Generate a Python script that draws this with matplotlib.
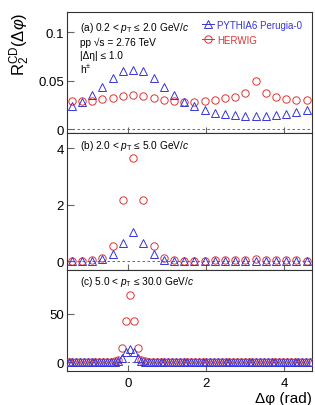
import numpy as np
import matplotlib
matplotlib.use("Agg")
import matplotlib.pyplot as plt
from matplotlib.lines import Line2D

plt.rcParams['font.family'] = ['Liberation Sans', 'DejaVu Sans']
plt.rcParams['mathtext.fontset'] = 'custom'
plt.rcParams['mathtext.rm'] = 'Liberation Sans'
plt.rcParams['mathtext.it'] = 'Liberation Sans:italic'
plt.rcParams['mathtext.bf'] = 'Liberation Sans:bold'

# --- donnees ---
n_bins_ab = 24
n_bins_c = 64

pythia_a = [0.0234, 0.0283, 0.0352, 0.0431, 0.0528, 0.0597, 0.0610, 0.0597,
            0.0531, 0.0438, 0.0352, 0.0283, 0.0234, 0.0197, 0.0166, 0.0152,
            0.0145, 0.0138, 0.0138, 0.0138, 0.0145, 0.0155, 0.0172, 0.0197]
herwig_a = [0.0286, 0.0286, 0.0290, 0.0307, 0.0321, 0.0338, 0.0355, 0.0345,
            0.0321, 0.0300, 0.0286, 0.0279, 0.0283, 0.0293, 0.0303, 0.0317,
            0.0331, 0.0369, 0.0500, 0.0369, 0.0334, 0.0314, 0.0303, 0.0297]

pythia_b = [0.00, 0.00, 0.01, 0.09, 0.25, 0.65, 1.05, 0.65, 0.25, 0.06, 0.01, 0.00,
            0.00, 0.00, 0.00, 0.00, 0.00, 0.00, 0.00, 0.00, 0.00, 0.00, 0.00, 0.00]
herwig_b = [0.02, 0.02, 0.03, 0.13, 0.53, 2.16, 3.65, 2.16, 0.53, 0.13, 0.03, 0.02,
            0.02, 0.02, 0.03, 0.04, 0.05, 0.06, 0.07, 0.06, 0.05, 0.04, 0.03, 0.02]

pythia_c = ([0.2] * 12 + [0.4, 1.5, 4.5, 10.5, 14.0, 10.5, 4.5, 1.5, 0.4]
            + [0.2] * 43)
herwig_c = ([0.3] * 11 + [0.5, 0.9, 2.8, 15.2, 43.2, 70.0, 43.2, 15.2, 2.8, 0.9, 0.5]
            + [0.3] * 42)

labels = ["(a) 0.2 < $p_{\\mathrm{T}}$ ≤ 2.0 GeV/$c$",
          "(b) 2.0 < $p_{\\mathrm{T}}$ ≤ 5.0 GeV/$c$",
          "(c) 5.0 < $p_{\\mathrm{T}}$ ≤ 30.0 GeV/$c$"]

blue = '#3434dc'
red = '#dc3434'

def centres(n):
    w = 2 * np.pi / n
    return -np.pi / 2 + w * (np.arange(n) + 0.5)

fig = plt.figure(figsize=(3.15, 4.06), dpi=100)
W, H = 315.0, 406.0
x0, x1 = 66.7, 311.8

def pad(top, bottom):
    return fig.add_axes([x0 / W, 1 - bottom / H, (x1 - x0) / W, (bottom - top) / H])

ax_a = pad(13.3, 134)
ax_b = pad(134, 271)
ax_c = pad(271, 372)

panels = [
    (ax_a, centres(n_bins_ab), pythia_a, herwig_a, (-0.0041, 0.1208), [0, 0.05, 0.1], ['0', '0.05', '0.1']),
    (ax_b, centres(n_bins_ab), pythia_b, herwig_b, (-0.31, 4.53), [0, 2, 4], ['0', '2', '4']),
    (ax_c, centres(n_bins_c), pythia_c, herwig_c, (-9.0, 95.5), [0, 50], ['0', '50']),
]

fs_txt = 7.3

for i, (ax, x, yp, yh, ylim, yt, ytl) in enumerate(panels):
    ax.axhline(0, color='#555555', lw=0.6, ls=(0, (3, 3)), zorder=1)
    ax.plot(x, yh, ls='none', marker='o', ms=5.3, mfc='none', mec=red, mew=0.7, zorder=3)
    ax.plot(x, yp, ls='none', marker='^', ms=5.4, mfc='none', mec=blue, mew=0.7, zorder=4)
    ax.set_xlim(-np.pi / 2, 3 * np.pi / 2)
    ax.set_ylim(*ylim)
    ax.set_yticks(yt)
    ax.set_yticklabels(ytl)
    ax.set_xticks([0, 2, 4])
    ax.tick_params(direction='in', length=4, width=0.8, color='#666666', labelsize=9.5, pad=2)
    ax.tick_params(axis='y', length=5)
    ax.tick_params(axis='x', pad=4)
    if i < 2:
        ax.tick_params(axis='x', labelbottom=False)
    for s in ax.spines.values():
        s.set_linewidth(0.8)
        s.set_color('#333333')
    ax.text(0.053, 0.94 if i == 0 else 0.96, labels[i], transform=ax.transAxes,
            fontsize=fs_txt, ha='left', va='top')

# textes du panneau (a)
ax_a.text(0.053, 0.755, "pp √s = 2.76 TeV", transform=ax_a.transAxes, fontsize=fs_txt, va='center')
ax_a.text(0.053, 0.645, "|Δη| ≤ 1.0", transform=ax_a.transAxes, fontsize=fs_txt, va='center')
ax_a.text(0.053, 0.535, "h$^{\\pm}$", transform=ax_a.transAxes, fontsize=fs_txt, va='center')

# legende
h1 = Line2D([], [], color=blue, lw=0.7, marker='^', ms=5.4, mfc='none', mec=blue, mew=0.7)
h2 = Line2D([], [], color=red, lw=0.7, marker='o', ms=5.3, mfc='none', mec=red, mew=0.7)
leg = ax_a.legend([h1, h2], ["PYTHIA6 Perugia-0", "HERWIG"], loc='upper left',
                  bbox_to_anchor=(0.535, 0.97), frameon=False, fontsize=7.0,
                  handlelength=1.3, handletextpad=0.25, labelspacing=0.5, borderaxespad=0)
for t, c in zip(leg.get_texts(), [blue, red]):
    t.set_color(c)

fig.text(20 / W, 1 - 13 / H, "$\\mathrm{R}_{2}^{\\mathrm{CD}}(\\Delta\\varphi)$", rotation=90,
         ha='center', va='top', fontsize=12)
fig.text(x1 / W, 1 - 399 / H, "Δφ (rad)", ha='right', va='center', fontsize=11)

fig.savefig("out.png", dpi=100)
